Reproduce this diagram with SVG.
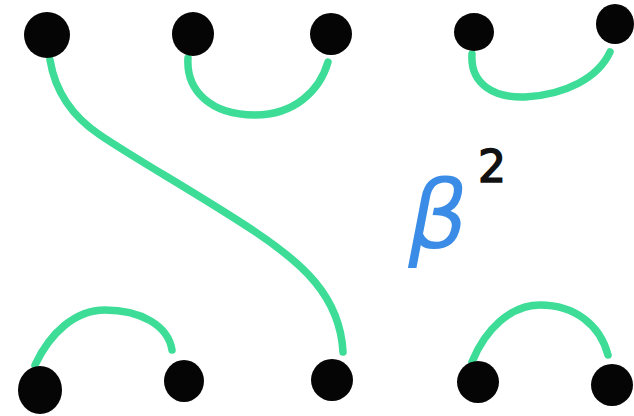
<svg xmlns="http://www.w3.org/2000/svg" width="634" height="416" viewBox="0 0 634 416">
  <style>
    .dot { fill: #050505; }
    .strand { fill: none; stroke: #3ddc97; stroke-width: 7.5; stroke-linecap: round; stroke-linejoin: round; }
    .beta { font-family: "DejaVu Sans", sans-serif; font-style: italic; fill: #3a8ce6; }
    .exp { font-family: "DejaVu Sans", sans-serif; fill: #111111; stroke: #111111; stroke-width: 1.5; }
  </style>
  <rect width="634" height="416" fill="#ffffff"/>
  <g id="connectors">
    <path class="strand" d="M50,60 C55,90 70,115 100,135 C140,162 200,195 257,233 C300,262 340,295 343,352"/>
    <path class="strand" d="M188,58 C186,90 210,115 255,115 C295,115 320,90 328,62"/>
    <path class="strand" d="M472,54 C470,85 495,98 525,97 C565,95 598,78 610,52"/>
    <path class="strand" d="M35,365 C50,333 75,310 105,310 C140,310 168,325 172,350"/>
    <path class="strand" d="M472,362 C485,330 510,305 540,305 C575,305 600,325 608,355"/>
  </g>
  <g id="top1"><ellipse class="dot" cx="47" cy="35" rx="23" ry="23"/></g>
  <g id="top2"><ellipse class="dot" cx="193" cy="34" rx="21" ry="22"/></g>
  <g id="top3"><ellipse class="dot" cx="331" cy="34" rx="21" ry="21"/></g>
  <g id="top4"><ellipse class="dot" cx="474" cy="32" rx="20" ry="19"/></g>
  <g id="top5"><ellipse class="dot" cx="615" cy="24" rx="19" ry="20"/></g>
  <g id="bottom1"><ellipse class="dot" cx="40" cy="390" rx="22" ry="24"/></g>
  <g id="bottom2"><ellipse class="dot" cx="184" cy="381" rx="20" ry="21"/></g>
  <g id="bottom3"><ellipse class="dot" cx="332" cy="380" rx="21" ry="21"/></g>
  <g id="bottom4"><ellipse class="dot" cx="478" cy="382" rx="21" ry="21"/></g>
  <g id="bottom5"><ellipse class="dot" cx="612" cy="385" rx="21" ry="21"/></g>
  <g id="label">
    <text class="beta" x="408" y="248" font-size="94">β</text>
    <text class="exp" x="478" y="182" font-size="44">2</text>
  </g>
</svg>
